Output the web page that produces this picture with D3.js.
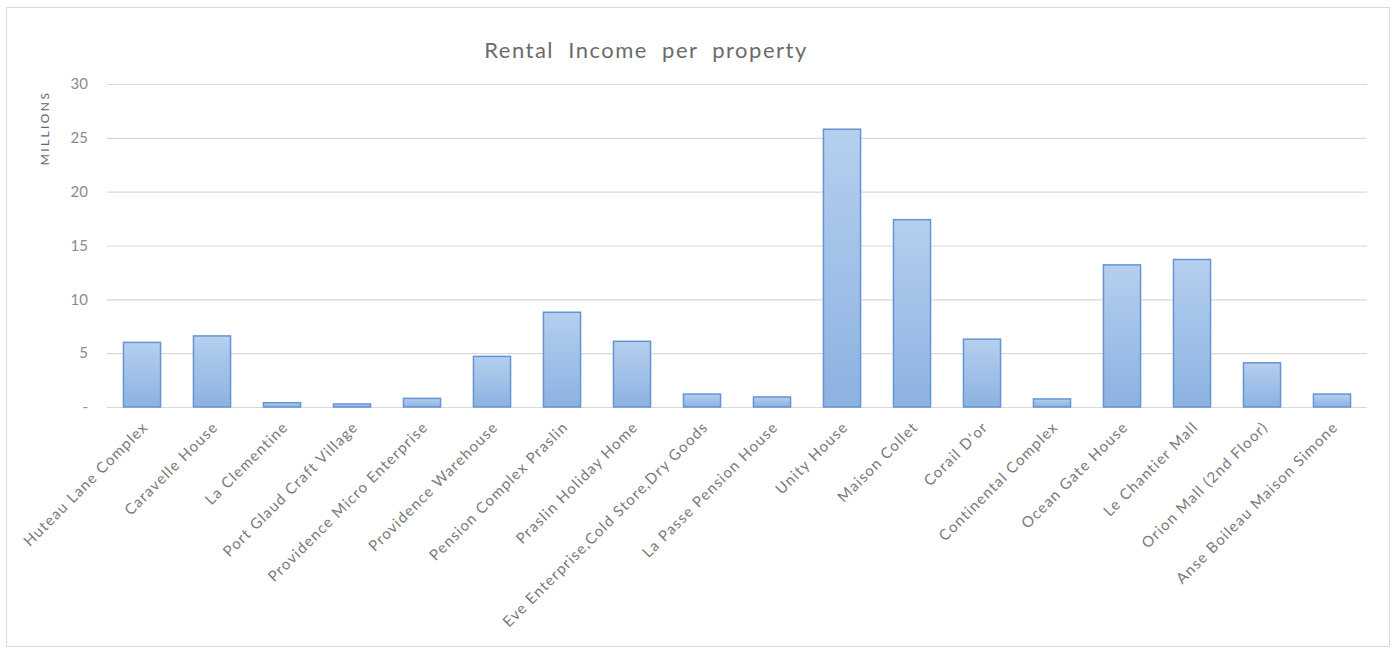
<!DOCTYPE html>
<html>
<head>
  <meta charset="utf-8">
  <title>Rental Income per property</title>
  <style>
    body { margin: 0; background: #fff; overflow: hidden; }
    text { font-family: Lato, "Open Sans", sans-serif; }
    .tick text { fill: #8c8c8c; font-size: 15px; }
    .xlab { fill: #7a7a7a; font-size: 15px; letter-spacing: 1.2px; }
  </style>
</head>
<body>
<svg id="chart" width="1397" height="649"></svg>
<script src="https://cdn.jsdelivr.net/npm/d3@7"></script>
<script>
// data (values in millions)
var properties = ["Huteau Lane Complex", "Caravelle House", "La Clementine", "Port Glaud Craft Village",
  "Providence Micro Enterprise", "Providence Warehouse", "Pension Complex Praslin", "Praslin Holiday Home",
  "Eve Enterprise,Cold Store,Dry Goods", "La Passe Pension House", "Unity House", "Maison Collet",
  "Corail D'or", "Continental Complex", "Ocean Gate House", "Le Chantier Mall", "Orion Mall (2nd Floor)",
  "Anse Boileau  Maison Simone"];
var income = [6.0, 6.6, 0.4, 0.28, 0.8, 4.7, 8.8, 6.1, 1.2, 0.93, 25.8, 17.4, 6.3, 0.75, 13.2, 13.7, 4.1, 1.2];
var yTicks = [0, 5, 10, 15, 20, 25, 30];

var svg = d3.select("#chart");
var plotL = 107, plotR = 1367, plotT = 84, plotB = 407;

// outer chart border
svg.append("rect")
    .attr("x", 6.5).attr("y", 7.5).attr("width", 1383).attr("height", 639)
    .attr("fill", "#fff").attr("stroke", "#d9d9d9");

var defs = svg.append("defs");
var grad = defs.append("linearGradient").attr("id", "barfill")
    .attr("x1", 0).attr("y1", 0).attr("x2", 0).attr("y2", 1);
grad.append("stop").attr("offset", "0%").attr("stop-color", "#b5cfef");
grad.append("stop").attr("offset", "100%").attr("stop-color", "#8cb2e1");

var x = d3.scaleBand().domain(properties).range([plotL, plotR]).paddingInner(0.47).paddingOuter(0.235);
var y = d3.scaleLinear().domain([0, 30]).range([plotB, plotT]);

// gridlines + y labels
var yAxis = svg.append("g")
    .attr("transform", "translate(" + plotL + ",0)")
    .call(d3.axisLeft(y).tickValues(yTicks).tickSize(-(plotR - plotL)).tickPadding(19)
      .tickFormat(function(d) { return d === 0 ? "-" : d; }));
yAxis.select(".domain").remove();
yAxis.selectAll(".tick line").attr("stroke", "#d9d9d9").attr("stroke-width", 1.2);

svg.append("text")
    .attr("transform", "translate(49,128) rotate(-90)")
    .attr("text-anchor", "middle")
    .attr("fill", "#666")
    .style("font-size", "12px")
    .style("letter-spacing", "2.4px")
    .text("MILLIONS");

// bars
svg.append("g").selectAll("rect")
    .data(income)
  .enter().append("rect")
    .attr("x", function(d, i) { return x(properties[i]); })
    .attr("y", function(d) { return y(d); })
    .attr("width", x.bandwidth())
    .attr("height", function(d) { return y(0) - y(d); })
    .attr("fill", "url(#barfill)")
    .attr("stroke", "#6494d2")
    .attr("stroke-width", 1.5);

// x labels rotated -45
svg.append("g").selectAll("text")
    .data(properties)
  .enter().append("text")
    .attr("class", "xlab")
    .attr("text-anchor", "end")
    .attr("transform", function(d) {
      return "translate(" + (x(d) + x.bandwidth() / 2 + 7) + "," + (plotB + 21) + ") rotate(-45)";
    })
    .text(function(d) { return d; });

svg.append("text")
    .attr("x", 646).attr("y", 58)
    .attr("text-anchor", "middle")
    .attr("fill", "#6b6b6b")
    .style("font-size", "22px")
    .style("letter-spacing", "1.5px")
    .style("word-spacing", "7px")
    .text("Rental Income per property");
</script>
</body>
</html>
